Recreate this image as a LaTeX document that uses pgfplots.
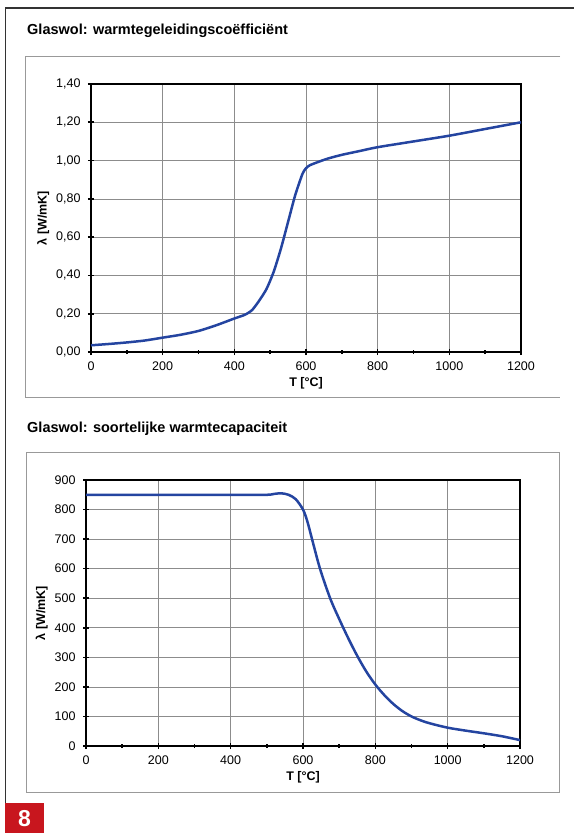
\documentclass[border=0pt]{standalone}
\usepackage{fontspec}
\setmainfont{Liberation Sans}
\usepackage{pgfplots}
\pgfplotsset{compat=1.18}
\definecolor{curve}{HTML}{2444A0}
\definecolor{red8}{HTML}{C8161E}
\pgfplotsset{mystyle/.style={
  scale only axis, anchor=south west,
  xmin=0, xmax=1200, xtick={0,200,...,1200}, minor xtick={100,300,...,1100},
  xtick pos=bottom, ytick pos=left, tick align=center,
  major tick length=6pt, minor tick length=4pt,
  every tick/.style={black, line width=1.6pt},
  grid=major, major grid style={black!45, line width=0.6pt},
  axis line style={line width=2.2pt},
  tick label style={font=\fontsize{12.5}{14}\selectfont},
  xticklabel style={yshift=-3pt},
  yticklabel style={xshift=-4pt},
  label style={font=\bfseries\fontsize{12.5}{14}\selectfont},
  xlabel={T [°C]}, ylabel={λ [W/mK]},
  xlabel style={yshift=0pt},
  ylabel style={yshift=0pt},
  /pgf/number format/assume math mode=true,
  /pgf/number format/1000 sep={},
  scaled ticks=false,
}}
\begin{document}
\begin{tikzpicture}[x=1pt,y=1pt]
\useasboundingbox (0,0) rectangle (574,-833);
\draw[line width=1.2pt, black!80] (5.5,-803) -- (5.5,-8) -- (574,-8);
\fill[red8] (5,-803) rectangle (44,-833);
\node[white, font=\bfseries\fontsize{23}{23}\selectfont] at (24.5,-818.5) {8};
\draw[black!40, line width=0.8pt] (560,-56) -- (25,-56) -- (25,-397) -- (560,-397);
\draw[black!40, line width=0.8pt] (26,-452) rectangle (559,-792);
\node[anchor=base west, inner sep=0, font=\bfseries\fontsize{14.5}{17}\selectfont] at (27,-34) {Glaswol: warmtegeleidingscoëfficiënt};
\node[anchor=base west, inner sep=0, font=\bfseries\fontsize{14.5}{17}\selectfont] at (27,-432) {Glaswol: soortelijke warmtecapaciteit};

\begin{axis}[mystyle, at={(91pt,-352pt)}, width=430pt, height=268pt,
  ymin=0, ymax=1.4, ytick={0,0.2,...,1.4},
  yticklabel style={/pgf/number format/.cd, fixed, fixed zerofill, precision=2, use comma, 1000 sep={}}]
\addplot[curve, line width=2.5pt, smooth, tension=0.4] table {
0 0.035
50 0.042
100 0.05
150 0.06
200 0.075
250 0.09
300 0.11
350 0.14
400 0.175
430 0.195
450 0.22
470 0.27
490 0.33
510 0.42
530 0.54
550 0.68
570 0.82
590 0.93
600 0.96
610 0.975
630 0.99
660 1.01
700 1.03
750 1.05
800 1.07
900 1.10
1000 1.13
1100 1.165
1200 1.20
};
\end{axis}

\begin{axis}[mystyle, at={(86pt,-746pt)}, width=434pt, height=266pt,
  ymin=0, ymax=900, ytick={0,100,...,900}]
\addplot[curve, line width=2.5pt, smooth, tension=0.5] table {
0 850
100 850
200 850
300 850
400 850
500 850
520 853
540 855
560 850
580 835
600 800
612 760
625 700
647 600
675 500
700 430
725 365
750 305
775 252
800 208
825 172
850 142
875 118
900 100
925 87
950 77
1000 62
1050 52
1100 43
1150 33
1200 20
};
\end{axis}
\end{tikzpicture}
\end{document}
